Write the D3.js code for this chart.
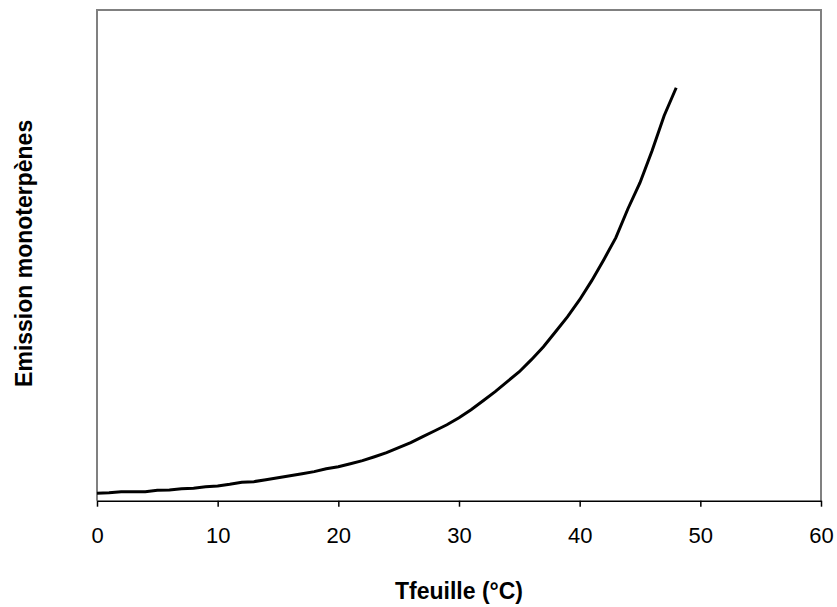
<!DOCTYPE html>
<html>
<head>
<meta charset="utf-8">
<script src="https://cdn.jsdelivr.net/npm/d3@7"></script>
<style>
  body { margin: 0; background: #fff; }
  text { font-family: Arial, "Liberation Sans", sans-serif; }
</style>
</head>
<body>
<div id="chart"></div>
<script>
// leaf temperature (°C)
var tLeaf = d3.range(0, 49);
// monoterpene emission (arbitrary units)
var emission = [
  0.075, 0.082, 0.092, 0.092, 0.092, 0.107, 0.110, 0.122, 0.126, 0.141,
  0.150, 0.168, 0.189, 0.194, 0.214, 0.234, 0.255, 0.275, 0.296, 0.326,
  0.346, 0.377, 0.408, 0.448, 0.489, 0.540, 0.591, 0.652, 0.713, 0.774,
  0.846, 0.927, 1.019, 1.111, 1.213, 1.314, 1.437, 1.569, 1.722, 1.875,
  2.048, 2.242, 2.456, 2.680, 2.975, 3.240, 3.566, 3.923, 4.208
];
var xTicks = [0, 10, 20, 30, 40, 50, 60];

var width = 837, height = 607;
var margin = {top: 10, right: 16, bottom: 106.3, left: 97};
var iw = width - margin.left - margin.right,
    ih = height - margin.top - margin.bottom;

var svg = d3.select("#chart").append("svg")
    .attr("width", width)
    .attr("height", height)
    .append("g")
    .attr("transform", "translate(" + margin.left + "," + margin.top + ")");

var x = d3.scaleLinear().domain([0, 60]).range([0, iw]);
var y = d3.scaleLinear().domain([0, 5]).range([ih, 0]);

// plot area border (grey)
svg.append("path")
    .attr("d", "M0," + ih + "V0H" + iw + "V" + ih)
    .attr("fill", "none")
    .attr("stroke", "#808080")
    .attr("stroke-width", 2);

// x axis
var xAxis = svg.append("g")
    .attr("transform", "translate(0," + ih + ")")
    .call(d3.axisBottom(x).tickValues(xTicks).tickSize(6).tickPadding(21).tickSizeOuter(0));
xAxis.select(".domain").attr("stroke", "#000").attr("stroke-width", 1.5);
xAxis.selectAll(".tick line").attr("stroke", "#000").attr("stroke-width", 1.5);
xAxis.selectAll(".tick text")
    .style("font-family", "Arial, 'Liberation Sans', sans-serif")
    .style("font-size", "22px")
    .attr("fill", "#000");

// curve
var line = d3.line()
    .x(function (d, i) { return x(tLeaf[i]); })
    .y(function (d) { return y(d); });

svg.append("path")
    .datum(emission)
    .attr("d", line)
    .attr("fill", "none")
    .attr("stroke", "#000")
    .attr("stroke-width", 3);

// axis titles
svg.append("text")
    .attr("x", iw / 2)
    .attr("y", ih + 98)
    .attr("text-anchor", "middle")
    .style("font-size", "23px")
    .style("font-weight", "bold")
    .text("Tfeuille (°C)");

svg.append("text")
    .attr("transform", "translate(" + (32 - margin.left) + "," + (ih / 2 - 2) + ") rotate(-90)")
    .attr("text-anchor", "middle")
    .style("font-size", "23px")
    .style("font-weight", "bold")
    .text("Emission monoterpènes");
</script>
</body>
</html>
